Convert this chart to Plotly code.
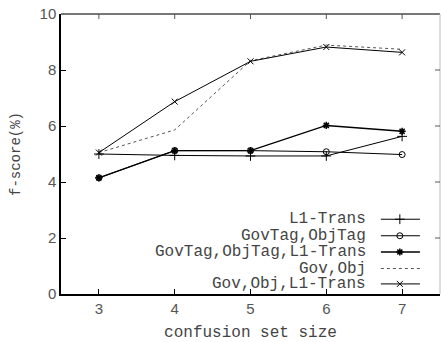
import plotly.graph_objects as go

sizes = [3, 4, 5, 6, 7]
l1_trans = [5.00, 4.95, 4.93, 4.93, 5.63]
govtag_objtag = [4.15, 5.12, 5.12, 5.08, 4.98]
govtag_objtag_l1 = [4.15, 5.12, 5.12, 6.02, 5.81]
gov_obj = [5.05, 5.86, 8.33, 8.89, 8.74]
gov_obj_l1 = [5.05, 6.87, 8.31, 8.82, 8.63]

names = ["L1-Trans", "GovTag,ObjTag", "GovTag,ObjTag,L1-Trans", "Gov,Obj", "Gov,Obj,L1-Trans"]
series = [l1_trans, govtag_objtag, govtag_objtag_l1, gov_obj, gov_obj_l1]
styles = [
    dict(line=dict(color="black", width=1), marker=dict(symbol="cross-thin-open", size=7, color="black", line=dict(color="black", width=1)), mode="lines+markers"),
    dict(line=dict(color="black", width=1), marker=dict(symbol="circle-open", size=6, color="black", line=dict(color="black", width=1)), mode="lines+markers"),
    dict(line=dict(color="black", width=1.4), marker=dict(symbol="asterisk-open", size=6, color="black", line=dict(color="black", width=1.5)), mode="lines+markers"),
    dict(line=dict(color="#555555", width=1, dash="dot"), mode="lines"),
    dict(line=dict(color="black", width=1), marker=dict(symbol="x-thin-open", size=6, color="black", line=dict(color="black", width=1)), mode="lines+markers"),
]

mono = "Liberation Mono, Courier New, monospace"
txtcol = "#444"
fig = go.Figure()
for nm, ys, st in zip(names, series, styles):
    fig.add_trace(go.Scatter(x=sizes, y=ys, name=nm, showlegend=False, **st))

# hand-drawn legend (text left of sample, gnuplot style) on an overlay axis
row_y = [0.267, 0.208, 0.150, 0.091, 0.036]
x0, x1, xm, xt = 0.844, 0.947, 0.894, 0.81
annotations = []
for nm, yy, st in zip(names, row_y, styles):
    fig.add_trace(go.Scatter(x=[x0, x1], y=[yy, yy], mode="lines", line=st["line"],
                             xaxis="x2", yaxis="y2", showlegend=False, hoverinfo="skip"))
    if "marker" in st:
        fig.add_trace(go.Scatter(x=[xm], y=[yy], mode="markers", marker=st["marker"],
                                 xaxis="x2", yaxis="y2", showlegend=False, hoverinfo="skip"))
    annotations.append(dict(x=xt, y=yy, xref="paper", yref="paper", text=nm, showarrow=False,
                            xanchor="right", yanchor="middle", font=dict(family=mono, size=16, color=txtcol)))

fig.update_layout(
    width=441, height=342,
    margin=dict(l=61, r=1, t=14, b=48),
    plot_bgcolor="white", paper_bgcolor="white",
    annotations=annotations,
    xaxis=dict(range=[2.5, 7.5], tickvals=sizes, ticks="inside", ticklen=5, tickcolor="black",
               showgrid=False, zeroline=False, showline=True, linecolor="black", linewidth=1.5,
               mirror=False,
               tickfont=dict(family="Liberation Sans, Arial, sans-serif", size=15, color="#555"),
               title=dict(text="confusion set size", font=dict(family=mono, size=16, color=txtcol), standoff=12)),
    yaxis=dict(range=[0, 10], tickvals=[0, 2, 4, 6, 8, 10], ticks="inside", ticklen=5, tickcolor="black",
               showgrid=False, zeroline=False, showline=True, linecolor="black", linewidth=1.5,
               tickfont=dict(family="Liberation Sans, Arial, sans-serif", size=15, color="#555"),
               title=dict(text="f-score(%)", font=dict(family=mono, size=14, color=txtcol), standoff=16)),
    xaxis2=dict(range=[0, 1], overlaying="x", visible=False, domain=[0, 1], fixedrange=True),
    yaxis2=dict(range=[0, 1], overlaying="y", visible=False, fixedrange=True),
    shapes=[
        dict(type="line", xref="paper", yref="paper", x0=0, x1=1, y0=1, y1=1, line=dict(color="#777", width=2)),
        dict(type="line", xref="paper", yref="paper", x0=1, x1=1, y0=0, y1=1, line=dict(color="#bbb", width=1)),
    ],
)
# mirrored ticks on top/right in gray
for v in sizes:
    fig.add_shape(type="line", xref="x", yref="paper", x0=v, x1=v, y0=1, y1=0.982, line=dict(color="#555", width=1))
for v in [2, 4, 6, 8]:
    fig.add_shape(type="line", xref="paper", yref="y", x0=1, x1=0.987, y0=v, y1=v, line=dict(color="#555", width=1))

fig.write_html("out.html")
